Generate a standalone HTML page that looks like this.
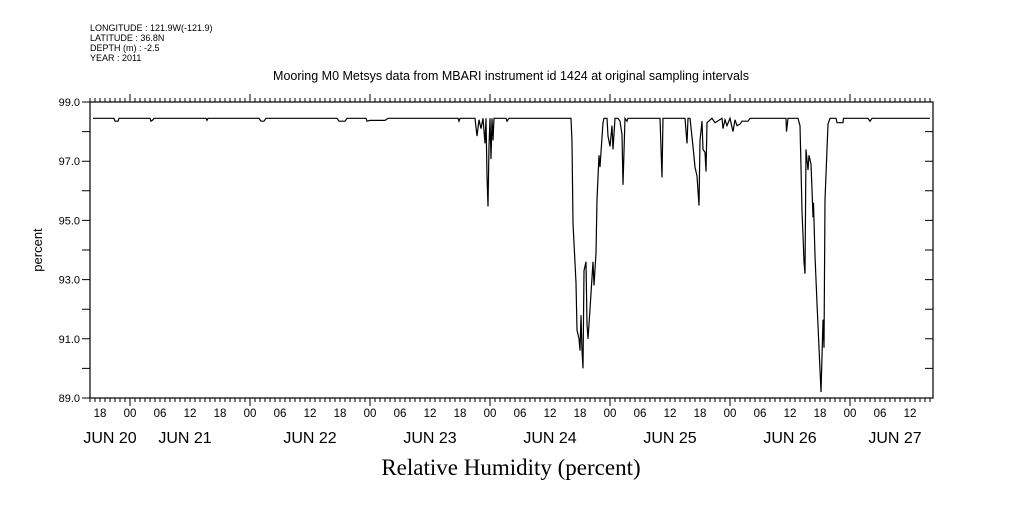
<!DOCTYPE html>
<html><head><meta charset="utf-8"><style>
body{margin:0;background:#fff;}
svg text{font-family:"Liberation Sans",sans-serif;fill:#000;}
</style></head><body>
<svg id="chart" width="1009" height="504" viewBox="0 0 1009 504" xmlns="http://www.w3.org/2000/svg">
<g font-size="9">
<text x="90" y="31">LONGITUDE : 121.9W(-121.9)</text>
<text x="90" y="41">LATITUDE : 36.8N</text>
<text x="90" y="51">DEPTH (m) : -2.5</text>
<text x="90" y="61">YEAR : 2011</text>
</g>
<text x="511" y="80" text-anchor="middle" font-size="12.5">Mooring M0 Metsys data from MBARI instrument id 1424 at original sampling intervals</text>
<text transform="translate(42,250) rotate(-90)" text-anchor="middle" font-size="13">percent</text>
<text x="511" y="475" text-anchor="middle" font-size="23" style="font-family:'Liberation Serif',serif">Relative Humidity (percent)</text>
<g id="axes"></g>
<path id="series" fill="none" stroke="#000" stroke-width="1.2"/>
</svg>
<script>
// hours since JUN 21 00:00
const times=[-7.4,-3.2,-3.0,-2.4,-2.2,4.0,4.2,4.6,4.8,15.2,15.4,15.6,25.8,26.2,26.8,27.2,41.4,41.8,43.0,43.4,47.2,47.4,48.0,51.0,51.6,65.6,65.8,66.0,
69.0,69.4,69.8,70.2,70.6,71.0,71.2,71.4,71.6,71.8,72.0,72.2,72.4,72.6,72.8,75.2,75.4,75.8,
88.2,88.4,88.6,89.2,89.4,89.8,90.0,90.2,90.4,90.6,90.8,91.2,91.4,91.6,92.0,92.6,92.8,93.2,93.4,93.8,94.0,94.6,94.8,95.4,95.6,96.0,96.4,96.6,97.0,97.6,98.0,98.4,98.6,99.0,99.4,99.6,
106.0,106.4,106.6,111.0,111.4,111.6,112.0,112.6,113.0,113.4,113.8,114.0,114.4,114.6,115.0,115.2,115.4,116.4,117.0,118.4,118.6,119.0,119.4,120.0,120.6,121.0,121.4,122.0,122.4,123.6,124.0,
131.2,131.3,131.6,133.6,134.0,134.2,134.4,134.6,134.8,135.0,135.2,135.4,135.6,135.8,136.2,136.4,136.6,136.7,137.0,137.4,137.8,138.0,138.2,138.4,138.6,138.8,139.0,139.4,139.6,140.0,141.2,141.4,142.6,142.7,147.6,148.0,148.4,160.0];
const values=[98.45,98.45,98.35,98.35,98.45,98.45,98.35,98.4,98.45,98.45,98.38,98.45,98.45,98.35,98.35,98.45,98.45,98.35,98.35,98.45,98.45,98.35,98.38,98.38,98.45,98.45,98.35,98.45,
98.45,97.85,98.4,98.1,98.45,97.6,98.45,96.5,95.47,97.5,98.45,97.07,98.45,97.7,98.45,98.45,98.35,98.45,
98.45,97.65,94.9,92.9,91.3,91.0,90.6,91.8,90.6,90.0,93.3,93.6,91.5,91.0,92.0,93.6,92.8,93.9,95.7,97.2,96.8,98.3,98.45,98.45,97.85,97.5,98.2,97.4,98.45,98.45,98.35,97.9,96.2,98.45,98.35,98.45,
98.45,96.45,98.45,98.45,97.6,98.45,98.45,97.5,96.8,96.5,95.5,97.7,98.35,97.4,97.3,96.65,98.3,98.45,98.3,98.45,98.1,98.4,98.2,98.45,98.0,98.4,98.2,98.25,98.35,98.35,98.45,
98.45,98.0,98.45,98.45,98.2,96.8,95.3,94.5,93.6,93.2,97.4,97.05,96.7,97.2,96.9,96.05,95.1,95.6,93.8,92.2,90.7,89.95,89.2,90.4,91.65,90.7,95.7,97.4,98.25,98.45,98.45,98.3,98.3,98.45,98.45,98.35,98.45,98.45];
const yTicks=[99,97,95,93,91,89];
const hourLabels=["18","00","06","12","18","00","06","12","18","00","06","12","18","00","06","12","18","00","06","12","18","00","06","12","18","00","06","12","18","00","06","12"];
const dayLabels=["JUN 20","JUN 21","JUN 22","JUN 23","JUN 24","JUN 25","JUN 26","JUN 27"];
const dayLabelHours=[-4,11,36,60,84,108,132,153];

const L=90,R=933,T=102,B=398,yMin=89,yMax=99,tMin=-8,tMax=(933-130)/5;
const X=t=>L+(t-tMin)*(R-L)/(tMax-tMin);
const Y=v=>B-(v-yMin)*(B-T)/(yMax-yMin);
const NS="http://www.w3.org/2000/svg";
const ax=document.getElementById('axes');
function mk(tag,attrs,parent){const e=document.createElementNS(NS,tag);for(const k in attrs)e.setAttribute(k,attrs[k]);(parent||ax).appendChild(e);return e;}
const frame=mk('rect',{x:L,y:T,width:R-L,height:B-T,fill:'none',stroke:'#000','stroke-width':1.2});


let d='';
for(let h=Math.ceil(tMin);h<=tMax;h++){const x=X(h).toFixed(1);const len=(((h%24)+24)%24===0)?8:4;d+=`M${x} ${T}v${-len}M${x} ${B}v${len}`;}
for(let v=yMin;v<=yMax;v++){const y=Y(v).toFixed(1);d+=`M${L} ${y}h-8M${R} ${y}h-8`;}
const tk=mk('path',{d:d,stroke:'#000','stroke-width':1,fill:'none'});


yTicks.forEach(v=>{const t=mk('text',{x:L-10,y:Y(v)+4,'text-anchor':'end','font-size':11});t.textContent=v.toFixed(1);

});
hourLabels.forEach((s,i)=>{const h=-6+6*i;if(X(h)>R)return;const t=mk('text',{x:X(h),y:417,'text-anchor':'middle','font-size':11.5});t.textContent=s;

});
dayLabels.forEach((s,i)=>{const t=mk('text',{x:X(dayLabelHours[i]),y:443,'text-anchor':'middle','font-size':16});t.textContent=s;

});
let p='';
times.forEach((t,i)=>{p+=(i?'L':'M')+X(t).toFixed(1)+' '+Y(values[i]).toFixed(1);});
document.getElementById('series').setAttribute('d',p);
</script>
</body></html>
